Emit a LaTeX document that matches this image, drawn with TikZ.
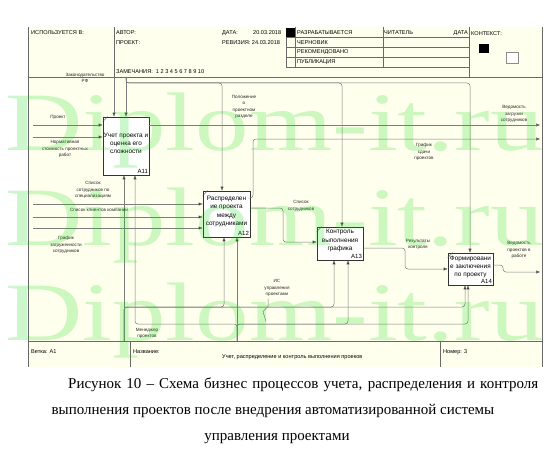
\documentclass[tikz,border=0pt]{standalone}
\usepackage{fontspec}
\usepackage{graphicx}
\setmainfont{Liberation Serif}
\newfontfamily\idef{Liberation Sans}
\usetikzlibrary{arrows.meta,positioning,calc}

\definecolor{paper}{RGB}{255,255,238}
\definecolor{rulegray}{RGB}{105,105,105}
\definecolor{wiregray}{RGB}{125,125,125}
\definecolor{wmgreen}{RGB}{0,215,0}

\begin{document}
\begin{tikzpicture}[x=1pt,y=-1pt]
	\tikzstyle{frameline}=[draw=rulegray,line width=0.6pt]
	\tikzstyle{hdr}=[font=\idef\fontsize{5.6}{6}\selectfont,inner sep=0pt,anchor=base west]
	\tikzstyle{activity}=[draw=black!80,fill=white,line width=0.7pt,inner sep=0pt]
	\tikzstyle{acttext}=[font=\idef\fontsize{6.4}{8.3}\selectfont,align=center,inner sep=0pt]
	\tikzstyle{actid}=[font=\idef\fontsize{6}{6}\selectfont,inner sep=1.3pt,anchor=south east]
	\tikzstyle{corner}=[draw=black!70,line width=0.4pt]
	\tikzstyle{wire}=[draw=wiregray,line width=0.5pt,rounded corners=3pt]
	\tikzstyle{feed}=[wire,arrows={-Triangle[length=4pt,width=3pt,fill=black]}]
	\tikzstyle{tag}=[font=\idef\fontsize{4.6}{6.3}\selectfont,align=center,inner sep=0pt,text=black!85]
	\tikzstyle{capline}=[font=\fontsize{15}{17}\selectfont,inner sep=0pt,anchor=base]
	\tikzstyle{watermark}=[font=\fontsize{83}{83}\selectfont,text=wmgreen,text opacity=0.2,inner sep=0pt,anchor=base west]

	\useasboundingbox (0,0) rectangle (552,460);

	% sheet
	\fill[paper] (28,27) rectangle (542,367);
	\draw[frameline] (28,27) -- (28,367);
	\draw[frameline] (542,27) -- (542,367);
	\draw[frameline] (28,77) -- (542,77);
	\draw[frameline] (28,341) -- (542,341);
	\draw[frameline] (114,27) -- (114,77);
	\draw[frameline] (295,27) -- (295,67);
	\draw[frameline] (286,37) -- (286,67);
	\draw[frameline] (383,27) -- (383,67);
	\draw[frameline] (469,27) -- (469,77);
	\draw[frameline] (286,37) -- (469,37);
	\draw[frameline] (286,47) -- (469,47);
	\draw[frameline] (286,57) -- (469,57);
	\draw[frameline] (286,67) -- (469,67);
	\draw[frameline] (130,341) -- (130,367);
	\draw[frameline] (440,341) -- (440,367);
	\fill[black] (286,28) rectangle (295,37);
	\fill[black] (479,44) rectangle (489,53);
	\draw[draw=black!45,fill=white,line width=0.5pt] (506,52) rectangle (518,63);

	% header and footer texts
	\node[hdr] (used) at (31,35) {ИСПОЛЬЗУЕТСЯ В:};
	\node[hdr] (author) at (116,35) {АВТОР:};
	\node[hdr] (project) at (116,45) {ПРОЕКТ:};
	\node[hdr] (notes) at (116,74) {ЗАМЕЧАНИЯ:\ \ 1 2 3 4 5 6 7 8 9 10};
	\node[hdr] (date) at (222,35) {ДАТА:};
	\node[hdr] (dateval) at (253,35) {20.03.2018};
	\node[hdr] (rev) at (222,45) {РЕВИЗИЯ: 24.03.2018};
	\node[hdr] (st1) at (297,35) {РАЗРАБАТЫВАЕТСЯ};
	\node[hdr] (st2) at (297,45) {ЧЕРНОВИК};
	\node[hdr] (st3) at (297,54) {РЕКОМЕНДОВАНО};
	\node[hdr] (st4) at (297,64) {ПУБЛИКАЦИЯ};
	\node[hdr] (reader) at (384,35) {ЧИТАТЕЛЬ};
	\node[hdr,anchor=base east] (rdate) at (468,35) {ДАТА};
	\node[hdr] (context) at (471,36) {КОНТЕКСТ:};
	\node[hdr] (branch) at (31,353) {Ветка: A1};
	\node[hdr] (title) at (133,353) {Название:};
	\node[hdr] (titleval) at (222,358) {Учет, распределение и контроль выполнения проеков};
	\node[hdr] (number) at (443,353) {Номер: 3};

	% activities
	\node[activity,minimum width=46pt,minimum height=58pt] (a11) at (126,146) {};
	\node[activity,minimum width=47pt,minimum height=46pt] (a12) at (226.5,214) {};
	\node[activity,minimum width=46pt,minimum height=33pt] (a13) at (340,243.5) {};
	\node[activity,minimum width=45pt,minimum height=32pt] (a14) at (470.5,269) {};
	\node[acttext] (a11t) at ([yshift=2.5pt]a11.center) {Учет проекта и\\оценка его\\сложности};
	\node[acttext] (a12t) at ([yshift=2.5pt]a12.center) {Распределен\\ие проекта\\между\\сотрудниками};
	\node[acttext] (a13t) at ([yshift=3pt]a13.center) {Контроль\\выполнения\\графика};
	\node[acttext] (a14t) at ([yshift=2pt]a14.center) {Формировани\\е заключения\\по проекту};
	\node[actid] (a11id) at (a11.south east) {A11};
	\node[actid] (a12id) at (a12.south east) {A12};
	\node[actid] (a13id) at (a13.south east) {A13};
	\node[actid] (a14id) at (a14.south east) {A14};
	\draw[corner] ([yshift=-5pt]a11.north west) -- ([xshift=5pt]a11.north west);
	\draw[corner] ([yshift=-5pt]a12.north west) -- ([xshift=5pt]a12.north west);
	\draw[corner] ([yshift=-5pt]a13.north west) -- ([xshift=5pt]a13.north west);
	\draw[corner] ([yshift=-5pt]a14.north west) -- ([xshift=5pt]a14.north west);

	% border points
	\coordinate (lawin) at (114,77);
	\coordinate (regin) at (126,77);
	\coordinate (ctl12) at (222,83);
	\coordinate (ctl13) at (342,83);
	\coordinate (ctl14) at (470,83);
	\coordinate (prjin) at (33,125);
	\coordinate (normin) at (33,137);
	\coordinate (staffin) at (33,204);
	\coordinate (clientin) at (33,217);
	\coordinate (loadin) at (33,228);
	\coordinate (loadout) at (540,125);
	\coordinate (dueout) at (540,139);
	\coordinate (workout) at (540,272);
	\coordinate (mgrin) at (124,341);
	\coordinate (isin) at (237,341);
	\coordinate (mgr12) at (224,307);
	\coordinate (mgr13) at (334,307);
	\coordinate (mgr14) at (465,307);
	\coordinate (is11) at (135,324);
	\coordinate (is13) at (348,324);
	\coordinate (is14) at (468,324);

	% controls
	\draw[feed] (lawin) -- (lawin |- a11.north);
	\draw[feed] (regin) -- (regin |- a11.north);
	\draw[feed] (regin) |- (ctl12) -- (ctl12 |- a12.north);
	\draw[feed] (regin) |- (ctl13) -- (ctl13 |- a13.north);
	\draw[feed] (regin) |- (ctl14) -- (ctl14 |- a14.north);

	% inputs
	\draw[feed] (prjin) -- (prjin -| a11.west);
	\draw[feed] (normin) -- (normin -| a11.west);
	\draw[feed] (staffin) -- (staffin -| a12.west);
	\draw[feed] (clientin) -- (clientin -| a12.west);
	\draw[feed] (loadin) -- (loadin -| a12.west);

	% outputs
	\draw[feed] (loadout -| a11.east) -- (loadout);
	\draw[feed] (a12.east |- 0,198) -| (253,139) -- (dueout);
	\draw[feed] (a12.east |- 0,208) -| (283,242) -- (a13.west |- 0,242);
	\draw[feed] (a13.east |- 0,248) -| (405,269) -- (a14.west |- 0,269);
	\draw[feed] (a14.east |- 0,265) -| (503,272) -- (workout);

	% mechanisms
	\draw[feed] (mgrin) -- (mgrin |- a11.south);
	\draw[feed] (mgrin) |- (mgr12) -- (mgr12 |- a12.south);
	\draw[feed] (mgrin) |- (mgr13) -- (mgr13 |- a13.south);
	\draw[feed] (mgrin) |- (mgr14) -- (mgr14 |- a14.south);
	\draw[feed] (isin) -- (isin |- a12.south);
	\draw[feed] (isin) |- (is11) -- (is11 |- a11.south);
	\draw[feed] (isin) |- (is13) -- (is13 |- a13.south);
	\draw[feed] (isin) |- (is14) -- (is14 |- a14.south);

	% arrow labels
	\node[tag] (lawtag) at (85,78) {Законодательство\\РФ};
	\node[tag] (regtag) at (244,107) {Положение\\о\\проектном\\разделе};
	\node[tag] (prjtag) at (58,117) {Проект};
	\node[tag] (normtag) at (65,149) {Нормативная\\стоимость проектных\\работ};
	\node[tag] (stafftag) at (93,190) {Список\\сотрудников по\\специализациям};
	\node[tag] (clienttag) at (99,210) {Список клиентов компании};
	\node[tag] (loadtag) at (66,245) {График\\загруженности\\сотрудников};
	\node[tag] (loadouttag) at (514,114) {Ведомость\\загрузки\\сотрудников};
	\node[tag] (duetag) at (424,152) {График\\сдачи\\проектов};
	\node[tag] (listtag) at (301,206) {Список\\сотрудников};
	\node[tag] (restag) at (418,244.5) {Результаты\\контроля};
	\node[tag] (worktag) at (519,250) {Ведомость\\проектов в\\работе};
	\node[tag] (istag) at (277,288) {ИС\\управления\\проектами};
	\node[tag] (mgrtag) at (147,333.5) {Менеджер\\проектов};
	\draw[wire,sharp corners] (istag.south) ++(-9,2) -- ++(0,8) -- ++(-5,5) -- ++(3,10);

	% caption
	\node[capline,anchor=base west] (cap1) at (68,388) {\makebox[470pt][s]{Рисунок 10 – Схема бизнес процессов учета, распределения и контроля}};
	\node[capline] (cap2) at (273,414) {выполнения проектов после внедрения автоматизированной системы};
	\node[capline] (cap3) at (277,440) {управления проектами};

	% watermark
	\node[watermark] (wm1) at (5,150) {\scalebox{1.29}[1]{Diplom-it.ru}};
	\node[watermark] (wm2) at (5,245) {\scalebox{1.29}[1]{Diplom-it.ru}};
	\node[watermark] (wm3) at (5,340) {\scalebox{1.29}[1]{Diplom-it.ru}};
\end{tikzpicture}
\end{document}
